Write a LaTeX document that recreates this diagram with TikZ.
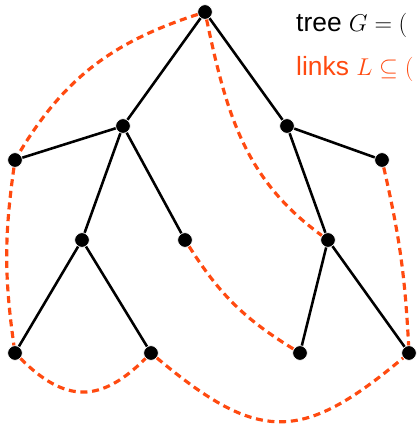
\documentclass[tikz,border=0pt]{standalone}
\usepackage{fontspec}
\setmainfont{Liberation Sans}
\usepackage{amsmath}
\usepackage{amssymb}
\usepackage{tikz}
\usepackage{xcolor}
\definecolor{linkred}{HTML}{FF4A10}

\begin{document}
\begin{tikzpicture}[x=0.03cm, y=0.03cm, font=\fontsize{22.5}{27}\selectfont,
    vertex/.style={circle, fill=black, draw=white, line width=0.6pt, inner sep=0pt, minimum size=12.5pt},
    treeedge/.style={draw=black, line width=2.2pt},
    linkedge/.style={draw=linkred, line width=2.7pt, dash pattern=on 6pt off 4pt}]
    \useasboundingbox (0,0) rectangle (418,424);
    % tree vertices
    \node[vertex] (root) at (205,412) {};
    \node[vertex] (l1) at (123,298) {};
    \node[vertex] (r1) at (287,298) {};
    \node[vertex] (l1a) at (15,264) {};
    \node[vertex] (l1b) at (82,184) {};
    \node[vertex] (l1c) at (185,184) {};
    \node[vertex] (l2a) at (15,71) {};
    \node[vertex] (l2b) at (151,71) {};
    \node[vertex] (r1a) at (328,184) {};
    \node[vertex] (r1b) at (382,264) {};
    \node[vertex] (r2a) at (300,71) {};
    \node[vertex] (r2b) at (409,71) {};
    % legend
    \node[anchor=base west, inner sep=0pt] (treelbl) at (296,392) {tree $G = ($};
    \node[anchor=base west, inner sep=0pt, text=linkred] (linklbl) at (296,348) {links $L \subseteq ($};
    % tree edges
    \draw[treeedge] (root) -- (l1);
    \draw[treeedge] (root) -- (r1);
    \draw[treeedge] (l1) -- (l1a);
    \draw[treeedge] (l1) -- (l1b);
    \draw[treeedge] (l1) -- (l1c);
    \draw[treeedge] (l1b) -- (l2a);
    \draw[treeedge] (l1b) -- (l2b);
    \draw[treeedge] (r1) -- (r1a);
    \draw[treeedge] (r1) -- (r1b);
    \draw[treeedge] (r1a) -- (r2a);
    \draw[treeedge] (r1a) -- (r2b);
    % links
    \draw[linkedge] (root) to[out=198, in=59] (l1a);
    \draw[linkedge] (root) to[out=-78, in=144] (r1a);
    \draw[linkedge] (l1a) to[bend right=8] (l2a);
    \draw[linkedge] (l1c) to[bend right=13] (r2a);
    \draw[linkedge] (r1b) to[bend left=5] (r2b);
    \draw[linkedge] (l2a) to[out=-45, in=-135, looseness=1.3] (l2b);
    \draw[linkedge] (l2b) to[out=-40, in=-140, looseness=1.38] (r2b);
\end{tikzpicture}
\end{document}
